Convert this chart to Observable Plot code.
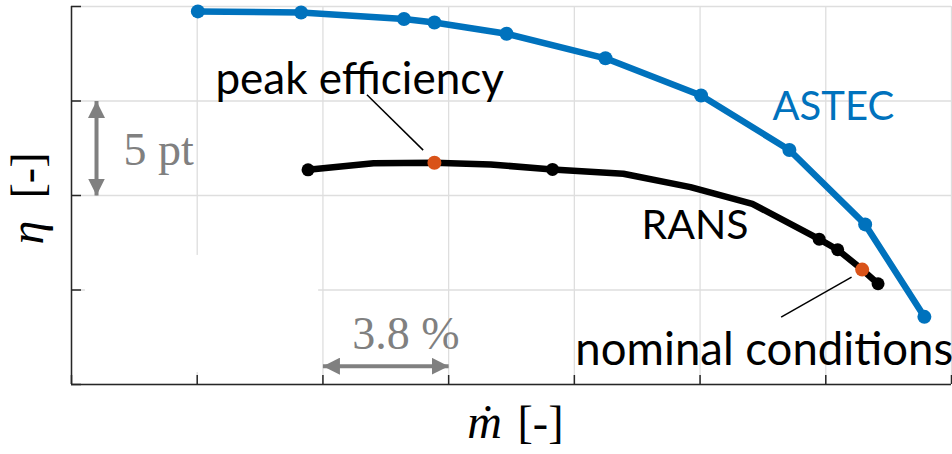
<!DOCTYPE html>
<html>
<head>
<meta charset="utf-8">
<script src="https://cdn.jsdelivr.net/npm/d3@7"></script>
<script src="https://cdn.jsdelivr.net/npm/@observablehq/plot@0.6"></script>
<style>
  html, body { margin: 0; padding: 0; background: #fff; }
  #chart svg { display: block; }
</style>
</head>
<body>
<div id="chart"></div>
<script>
// Mass-flow offsets (%) and efficiency offsets (pt) along each speed line
const astecFlow = [3.82, 6.94, 10.05, 10.97, 13.15, 16.14, 19.03, 21.70, 23.99, 25.78];
const astecEta  = [19.74, 19.68, 19.34, 19.15, 18.56, 17.26, 15.29, 12.41, 8.47, 3.58];

const ransFlow = [7.15, 9.13, 10.97, 12.67, 14.54, 16.68, 18.71, 20.58, 22.60, 23.16, 23.90, 24.38];
const ransEta  = [11.36, 11.71, 11.73, 11.64, 11.38, 11.15, 10.44, 9.56, 7.69, 7.13, 6.08, 5.33];
// which RANS samples carry a marker: "run" = computed point, "op" = operating point of interest
const ransKind = ["run", "", "op", "", "run", "", "", "", "run", "run", "op", "run"];

// Grid spacing: one x step is 3.8 % of mass flow, one y step is 5 efficiency points
const flowStep = 3.8;
const etaStep = 5;
const xTicks = [0, 3.8, 7.6, 11.4, 15.2, 19.0, 22.8, 26.6];
const yTicks = [0, 5, 10, 15, 20];

const astec = astecFlow.map((x, i) => ({x, y: astecEta[i]}));
const rans = ransFlow.map((x, i) => ({x, y: ransEta[i], kind: ransKind[i]}));

const blue = "#0072BD";
const orange = "#D95319";
const gray = "#808080";
const ink = "#262626";
const sans = "Lato, 'Open Sans', sans-serif";
const serif = "'Liberation Serif', 'DejaVu Serif', serif";

const chart = Plot.plot({
  width: 952,
  height: 454,
  marginLeft: 71,
  marginRight: 1,
  marginTop: 6,
  marginBottom: 70,
  x: {domain: [0, xTicks[xTicks.length - 1]]},
  y: {domain: [0, yTicks[yTicks.length - 1]]},
  style: {background: "#fff"},
  marks: [
    Plot.gridX(xTicks, {stroke: "#dedede", strokeOpacity: 1, strokeWidth: 1.3}),
    Plot.gridY(yTicks, {stroke: "#dedede", strokeOpacity: 1, strokeWidth: 1.3}),
    // empty legend box left in the lower-left corner
    Plot.rect([0], {x1: 0.42, x2: 7.47, y1: 0.63, y2: 6.83, fill: "#fff"}),
    Plot.ruleX([0], {stroke: ink, strokeWidth: 1.5}),
    Plot.ruleY([0], {stroke: ink, strokeWidth: 1.5}),
    Plot.axisX({ticks: xTicks, tickSize: -9, tickFormat: () => "", label: null, stroke: ink, strokeWidth: 1.5}),
    Plot.axisY({ticks: yTicks, tickSize: -10, tickFormat: () => "", label: null, stroke: ink, strokeWidth: 1.5}),

    Plot.line(astec, {x: "x", y: "y", stroke: blue, strokeWidth: 6.5, strokeLinejoin: "round"}),
    Plot.dot(astec, {x: "x", y: "y", r: 7, fill: blue}),

    Plot.line(rans, {x: "x", y: "y", stroke: "#000", strokeWidth: 6.5, strokeLinejoin: "round"}),
    Plot.dot(rans.filter(d => d.kind === "run"), {x: "x", y: "y", r: 6.5, fill: "#000"}),

    // leader lines
    Plot.link([0], {x1: 8.93, y1: 15.33, x2: 10.63, y2: 12.40, stroke: "#000", strokeWidth: 1.5}),
    Plot.link([0], {x1: 21.45, y1: 3.56, x2: 23.58, y2: 5.68, stroke: "#000", strokeWidth: 1.5}),

    Plot.dot(rans.filter(d => d.kind === "op"), {x: "x", y: "y", r: 7, fill: orange}),

    // scale arrows
    Plot.link([0], {x1: 0.756, y1: 2 * etaStep, x2: 0.756, y2: 3 * etaStep, stroke: gray, strokeWidth: 4, markerStart: "arrow", markerEnd: "arrow"}),
    Plot.link([0], {x1: 2 * flowStep, y1: 0.97, x2: 3 * flowStep, y2: 0.97, stroke: gray, strokeWidth: 4, markerStart: "arrow", markerEnd: "arrow"}),
    Plot.text([`${etaStep} pt`], {x: 1.57, y: 11.59, text: d => d, fill: gray, fontFamily: serif, fontSize: 46, textAnchor: "start", lineAnchor: "bottom"}),
    Plot.text([`${flowStep} %`], {x: 8.49, y: 1.89, text: d => d, fill: gray, fontFamily: serif, fontSize: 46, textAnchor: "start", lineAnchor: "bottom"}),

    // annotations
    Plot.text(["peak efficiency"], {x: 4.35, y: 15.37, text: d => d, fill: "#000", fontFamily: sans, fontSize: 44, textAnchor: "start", lineAnchor: "bottom"}),
    Plot.text(["ASTEC"], {x: 21.19, y: 14.02, text: d => d, fill: blue, fontFamily: sans, fontSize: 40, textAnchor: "start", lineAnchor: "bottom"}),
    Plot.text(["RANS"], {x: 17.23, y: 7.71, text: d => d, fill: "#000", fontFamily: sans, fontSize: 41, textAnchor: "start", lineAnchor: "bottom"}),
    Plot.text(["nominal conditions"], {x: 15.23, y: 1.01, text: d => d, fill: "#000", fontFamily: sans, fontSize: 45.5, textAnchor: "start", lineAnchor: "bottom"}),

    // axis labels
    Plot.text(["ṁ"], {frameAnchor: "bottom", text: d => d, dx: -27, dy: 53, fontFamily: serif, fontStyle: "italic", fontSize: 48, fill: "#000", textAnchor: "middle", lineAnchor: "bottom"}),
    Plot.text(["[-]"], {frameAnchor: "bottom", text: d => d, dx: 29, dy: 53, fontFamily: serif, fontSize: 46, fill: "#000", textAnchor: "middle", lineAnchor: "bottom"}),
    Plot.text(["η"], {frameAnchor: "left", text: d => d, rotate: -90, dx: -29, dy: 37, fontFamily: serif, fontStyle: "italic", fontSize: 48, fill: "#000", textAnchor: "middle", lineAnchor: "bottom"}),
    Plot.text(["[-]"], {frameAnchor: "left", text: d => d, rotate: -90, dx: -29, dy: -20, fontFamily: serif, fontSize: 46, fill: "#000", textAnchor: "middle", lineAnchor: "bottom"})
  ]
});

// solid triangular heads for the scale arrows
const svg = d3.select(chart);
const defs = svg.append("defs");
for (const [id, orient] of [["head-start", "auto-start-reverse"], ["head-end", "auto"]]) {
  defs.append("marker")
    .attr("id", id)
    .attr("viewBox", "-17 -8.5 17 17")
    .attr("markerUnits", "userSpaceOnUse")
    .attr("markerWidth", 17)
    .attr("markerHeight", 17)
    .attr("refX", 0)
    .attr("refY", 0)
    .attr("orient", orient)
    .append("path")
    .attr("d", "M0,0L-17,-8.5L-17,8.5Z")
    .attr("fill", gray);
}
svg.selectAll("[marker-start]").attr("marker-start", "url(#head-start)");
svg.selectAll("[marker-end]").attr("marker-end", "url(#head-end)");

document.getElementById("chart").appendChild(chart);
</script>
</body>
</html>
